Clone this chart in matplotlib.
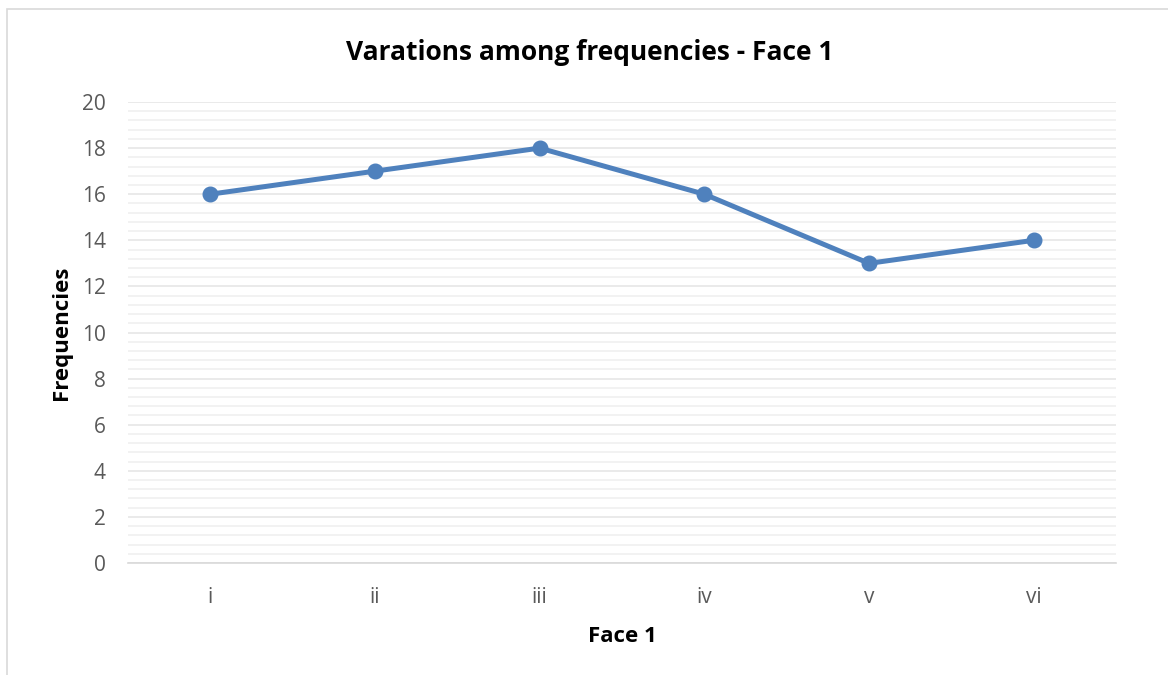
import matplotlib.pyplot as plt
from matplotlib.ticker import MultipleLocator
from matplotlib.patches import Rectangle

categories = ['i', 'ii', 'iii', 'iv', 'v', 'vi']
frequencies = [16, 17, 18, 16, 13, 14]

plt.rcParams['font.family'] = ['Open Sans', 'DejaVu Sans']

fig = plt.figure(figsize=(11.68, 6.75), dpi=100)
ax = fig.add_axes([0.1096, 0.1659, 0.8459, 0.683])

# outer chart frame
fig.patches.append(Rectangle((7 / 1168, -0.01), 1.0, 1 - 9 / 675 + 0.01,
                             transform=fig.transFigure, fill=False,
                             edgecolor='#d9d9d9', linewidth=1.2))

x = range(len(categories))
ax.plot(x, frequencies, color='#4f81bd', linewidth=3.6, marker='o',
        markersize=10.5, zorder=3)

ax.set_xlim(-0.5, len(categories) - 0.5)
ax.set_ylim(0, 20)
ax.set_xticks(list(x))
ax.set_xticklabels(categories)
ax.yaxis.set_major_locator(MultipleLocator(2))
ax.yaxis.set_minor_locator(MultipleLocator(0.4))
ax.grid(which='major', axis='y', color='#e6e6e6', linewidth=1.2)
ax.grid(which='minor', axis='y', color='#f0f0f0', linewidth=1.2)
ax.tick_params(axis='both', which='both', length=0, labelsize=15, colors='#595959')
ax.tick_params(axis='x', pad=17)
ax.tick_params(axis='y', pad=16)

for side in ['top', 'right', 'left']:
    ax.spines[side].set_visible(False)
ax.spines['bottom'].set_color('#d9d9d9')
ax.spines['bottom'].set_linewidth(1.2)

# title is centred on the whole chart, not the plot area
fig.text(590 / 1168, 1 - 52 / 675, 'Varations among frequencies - Face 1',
         fontsize=19, fontweight='bold', color='#000000',
         ha='center', va='center')
ax.set_xlabel('Face 1', fontsize=16, fontweight='bold', labelpad=13)
ax.set_ylabel('Frequencies', fontsize=16, fontweight='bold', labelpad=7)

plt.savefig('out.png', dpi=100)
